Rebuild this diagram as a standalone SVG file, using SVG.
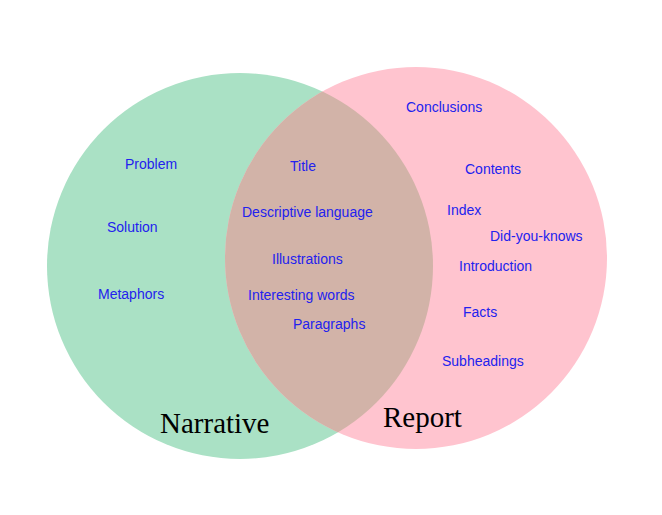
<svg xmlns="http://www.w3.org/2000/svg" width="662" height="515" viewBox="0 0 662 515">
<style>
.t{font-family:"Liberation Sans",Arial,sans-serif;font-size:14px;fill:#2222ee}
.b{font-family:"Liberation Serif","Times New Roman",serif;font-size:29px;fill:#000}
</style>
<defs><clipPath id="cg"><circle cx="240" cy="266" r="193"/></clipPath></defs>
<rect width="662" height="515" fill="#fff"/>
<g id="narrative"><circle cx="240" cy="266" r="193" fill="#aae1c5"/></g>
<g id="report"><circle cx="416" cy="258" r="191" fill="#ffc4cf"/>
<circle cx="416" cy="258" r="191" fill="#d2b3a8" clip-path="url(#cg)"/></g>
<g id="labels">
<text class="t" x="125" y="169">Problem</text>
<text class="t" x="107" y="232">Solution</text>
<text class="t" x="98" y="299">Metaphors</text>
<text class="t" x="290" y="171">Title</text>
<text class="t" x="242" y="217">Descriptive language</text>
<text class="t" x="272" y="264">Illustrations</text>
<text class="t" x="248" y="300">Interesting words</text>
<text class="t" x="293" y="329">Paragraphs</text>
<text class="t" x="406" y="112">Conclusions</text>
<text class="t" x="465" y="174">Contents</text>
<text class="t" x="447" y="215">Index</text>
<text class="t" x="490" y="241">Did-you-knows</text>
<text class="t" x="459" y="271">Introduction</text>
<text class="t" x="463" y="317">Facts</text>
<text class="t" x="442" y="366">Subheadings</text>
<text class="b" x="160" y="433">Narrative</text>
<text class="b" x="383" y="427">Report</text>
</g>
<g id="connectors"/>
</svg>
